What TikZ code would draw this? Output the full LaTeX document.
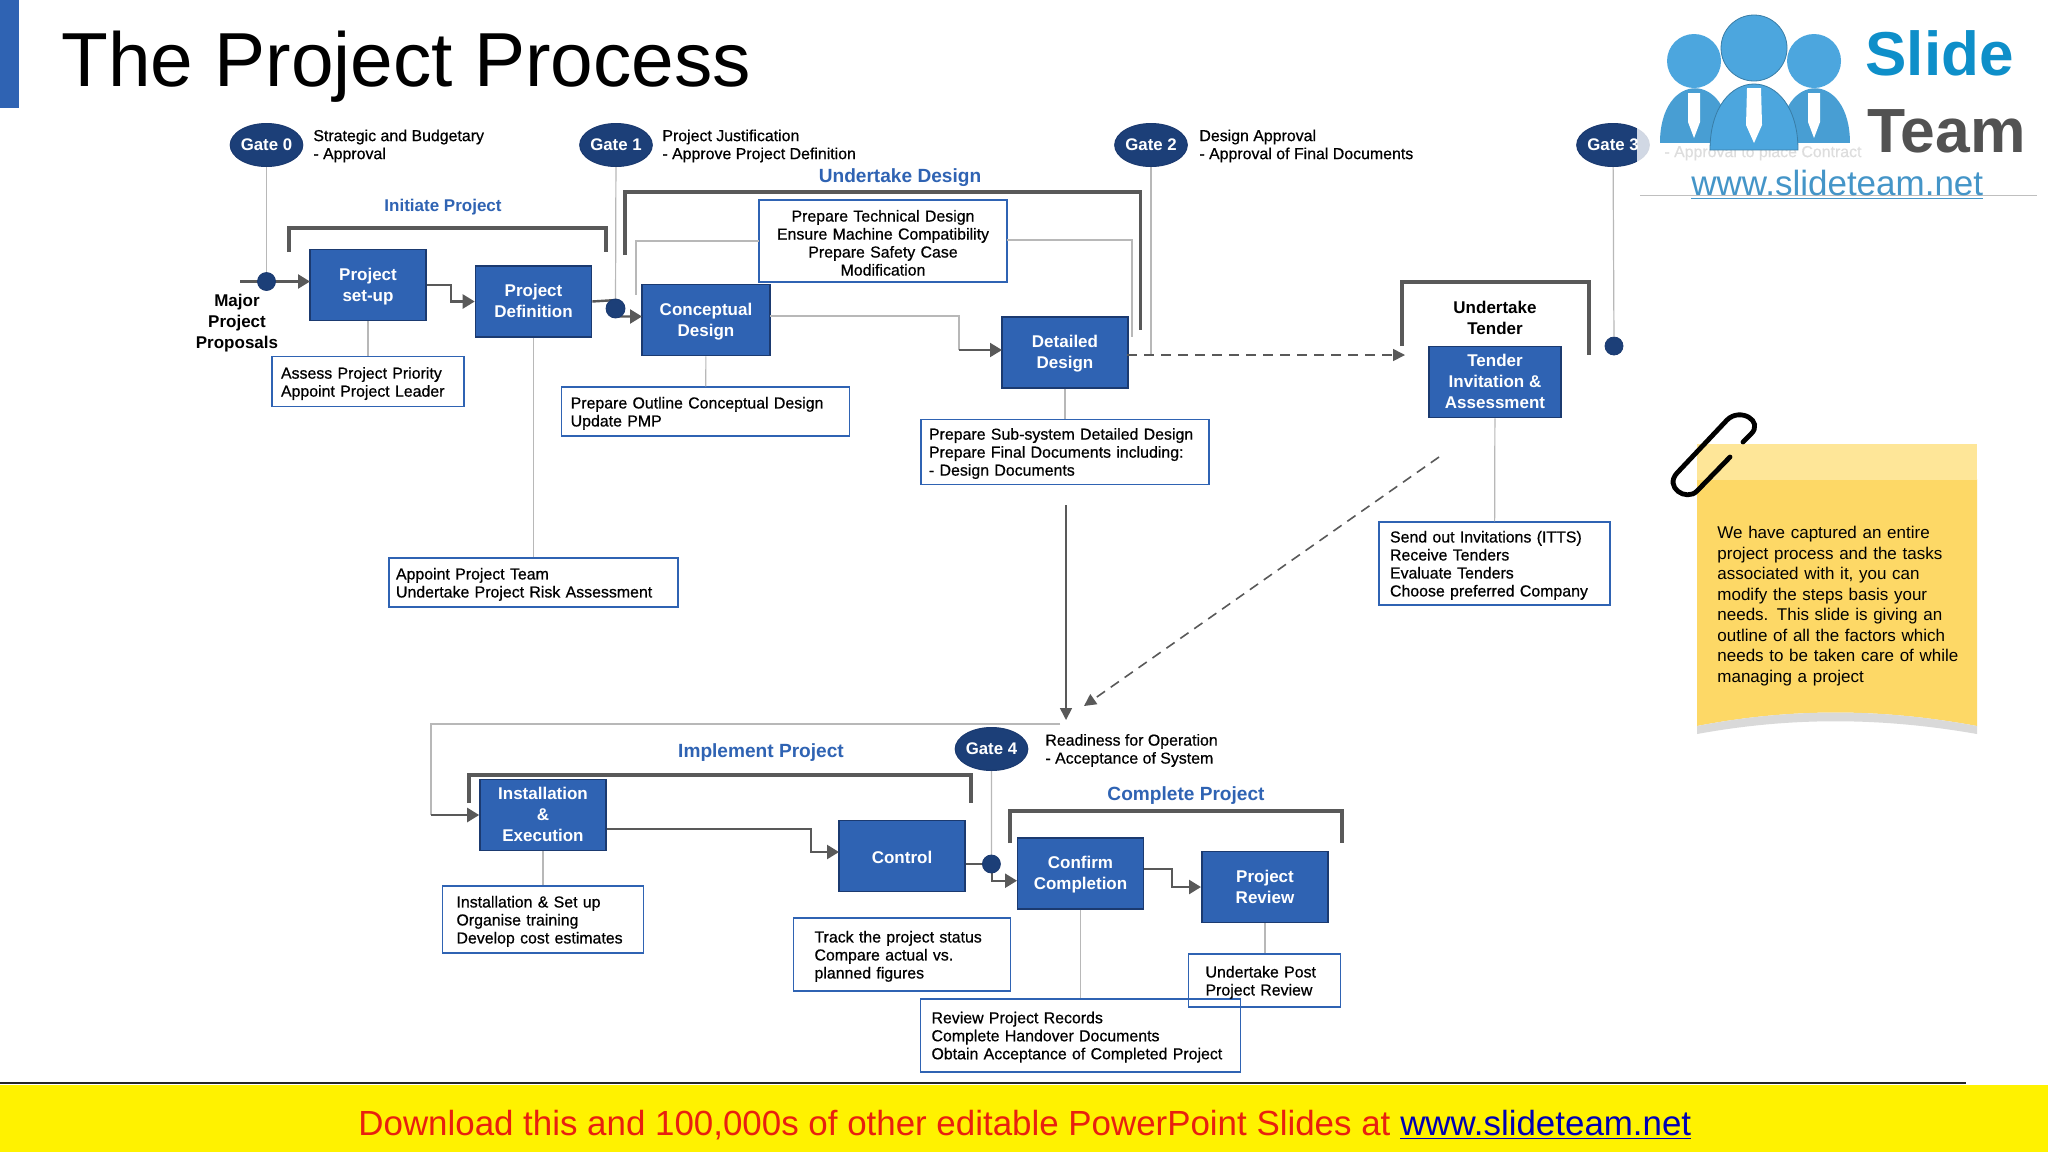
\documentclass[tikz,border=0pt]{standalone}
\usepackage{fontspec}
\setmainfont{Liberation Sans}
\newfontfamily\semifont[FakeBold=0.6]{Liberation Sans}
\usepackage{tikz}
\usetikzlibrary{arrows.meta,shapes.geometric}
\definecolor{boxblue}{HTML}{2F63B3}
\definecolor{boxedge}{HTML}{1B3A70}
\definecolor{gatenavy}{HTML}{1C3F78}
\definecolor{flowgray}{HTML}{595959}
\definecolor{thingray}{HTML}{B8B8B8}
\definecolor{logoblue}{HTML}{4CA6DE}
\definecolor{slideblue}{HTML}{0E8FC9}
\definecolor{notegold}{HTML}{FDD866}
\definecolor{notepale}{HTML}{FEE698}
\definecolor{bannerred}{HTML}{E8200F}

\begin{document}
\begin{tikzpicture}[x=0.5pt,y=-0.5pt]
\tikzset{stage/.style={draw=boxedge, line width=.8pt, fill=boxblue, text=white, align=center, minimum width=63pt, minimum height=35.5pt, inner sep=0pt, text height=17pt, text depth=1pt, font=\bfseries\fontsize{8.5}{10.3}\selectfont}}
\tikzset{note/.style={draw=boxblue, line width=.7pt, align=left, inner ysep=0pt, font=\semifont\fontsize{7.95}{9}\selectfont, execute at begin node=\rule{0pt}{7.6pt}}}
\tikzset{gate/.style={ellipse, draw=boxedge, line width=.5pt, fill=gatenavy, text=white, minimum width=36pt, minimum height=21.5pt, inner sep=0pt, font=\bfseries\fontsize{8.4}{10}\selectfont}}
\tikzset{gatetext/.style={anchor=west, align=left, inner sep=0pt, font=\semifont\fontsize{7.95}{9}\selectfont}}
\tikzset{dot/.style={circle, fill=gatenavy, draw=boxedge, line width=.4pt, minimum size=9pt, inner sep=0pt}}
\tikzset{phase/.style={text=boxblue, inner sep=0pt, font=\bfseries\fontsize{9.55}{11}\selectfont}}
\tikzset{head/.style={align=center, inner sep=0pt, font=\bfseries\fontsize{8.5}{10.3}\selectfont}}
\tikzset{flow/.style={draw=flowgray, line width=1.2pt, -{Triangle[length=6pt,width=7pt]}}}
\tikzset{thin link/.style={draw=thingray, line width=.6pt}}
\tikzset{bracket/.style={draw=flowgray, line width=1.7pt}}
\tikzset{dashes/.style={draw=flowgray, line width=.8pt, dash pattern=on 5pt off 3.5pt, -{Triangle[length=6pt,width=6pt]}}}

\useasboundingbox (0,0) rectangle (2048,1152);
\fill[white] (0,0) rectangle (2048,1152);

% title
\fill[boxblue] (0,0) rectangle (19,108);
\node[anchor=base west, inner sep=0pt, font=\fontsize{38.3}{40}\selectfont] (title) at (61,86) {The Project Process};

% gates
\node[gate] (G0) at (266.5,145) {Gate 0};
\node[gate] (G1) at (616,145) {Gate 1};
\node[gate] (G2) at (1151,145) {Gate 2};
\node[gate] (G3) at (1613,145) {Gate 3};
\node[gate] (G4) at (991.5,749) {Gate 4};
\node[gatetext] (T0) at (313,146) {Strategic and Budgetary\\- Approval};
\node[gatetext] (T1) at (662,146) {Project Justification\\- Approve Project Definition};
\node[gatetext] (T2) at (1199,146) {Design Approval\\- Approval of Final Documents};
\node[gatetext, text=flowgray] (T3) at (1664,153) {- Approval to place Contract};
\node[gatetext] (T4) at (1045,750.5) {Readiness for Operation\\- Acceptance of System};

% phase headings
\node[phase, font=\bfseries\fontsize{8.5}{11}\selectfont] (P1) at (443,207) {Initiate Project};
\node[phase] (P2) at (900,177.5) {Undertake Design};
\node[phase] (P3) at (761,753) {Implement Project};
\node[phase] (P4) at (1186,796) {Complete Project};

% stages
\node[stage, minimum width=58pt] (SU) at (368,285) {Project\\set-up};
\node[stage, minimum width=58pt] (PD) at (533.5,301.5) {Project\\Definition};
\node[stage, minimum width=64pt] (CD) at (706,320) {Conceptual\\Design};
\node[stage] (DD) at (1065,352.5) {Detailed\\Design};
\node[stage, minimum width=66pt, text height=27pt] (TI) at (1495,382) {Tender\\Invitation \&\\Assessment};
\node[stage, text height=27pt] (IE) at (543,815) {Installation\\\&\\Execution};
\node[stage, text height=8pt] (CT) at (902,856) {Control};
\node[stage] (CC) at (1080.5,873.5) {Confirm\\Completion};
\node[stage] (PR) at (1265,887) {Project\\Review};

\node[head] (MP) at (237,323) {Major\\Project\\Proposals};
\node[head] (UT) at (1495,318) {Undertake\\Tender};

% notes
\node[note, inner xsep=4.5pt, text width=87pt, minimum height=25pt] (N1) at (368,381.7) {Assess Project Priority\\Appoint Project Leader};
\node[note, align=center, inner xsep=2pt, text width=120pt, minimum height=41pt] (N2) at (883,241) {Prepare Technical Design\\Ensure Machine Compatibility\\Prepare Safety Case\\Modification};
\node[note, inner xsep=4.5pt, text width=135pt, minimum height=24.5pt] (N3) at (705.7,411.5) {Prepare Outline Conceptual Design\\Update PMP};
\node[note, inner xsep=4pt, text width=136pt, minimum height=32.5pt] (N4) at (1065,451.7) {Prepare Sub-system Detailed Design\\Prepare Final Documents including:\\- Design Documents};
\node[note, inner xsep=3.5pt, text width=137.5pt, minimum height=24.5pt] (N5) at (533.5,582.5) {Appoint Project Team\\Undertake Project Risk Assessment};
\node[note, inner xsep=5.5pt, text width=104.5pt, minimum height=41.5pt] (N6) at (1494.5,563.5) {Send out Invitations (ITTS)\\Receive Tenders\\Evaluate Tenders\\Choose preferred Company};
\node[note, inner xsep=7pt, text width=86.5pt, minimum height=33.5pt] (N7) at (543,919.5) {Installation \& Set up\\Organise training\\Develop cost estimates};
\node[note, inner xsep=10.5pt, text width=87.5pt, minimum height=36.5pt] (N8) at (902,954.5) {Track the project status\\Compare actual vs.\\planned figures};
\node[note, inner xsep=5.5pt, text width=149pt, minimum height=36.5pt] (N9) at (1080.5,1035.3) {Review Project Records\\Complete Handover Documents\\Obtain Acceptance of Completed Project};
\node[note, inner xsep=8.5pt, text width=59pt, minimum height=26.5pt] (N10) at (1264.5,980.5) {Undertake Post\\Project Review};

% free ends of the connectors
\coordinate (M0) at (240,281.5);
\coordinate (SUi) at (310,281.5);
\coordinate (CDi) at (642,316.5);
\coordinate (CDo) at (770,316);
\coordinate (DDe) at (959,316);
\coordinate (DDi) at (1002,350);
\coordinate (DDo) at (1127,355);
\coordinate (TIi) at (1405,355);
\coordinate (TIo) at (1439,457);
\coordinate (JN) at (1084,706);
\coordinate (N4o) at (1066,505);
\coordinate (JD) at (1066,720);
\coordinate (JL) at (1060,724);
\coordinate (IEb) at (431,815);
\coordinate (IEo) at (607,829);
\coordinate (CTi) at (839,852);
\coordinate (CTo) at (965.6,863.7);
\coordinate (CCi) at (1017,880.7);
\coordinate (CCo) at (1144,869);
\coordinate (PRi) at (1201,887);
\coordinate (N2l) at (759,241);
\coordinate (N2r) at (1007,240);
\coordinate (CDt) at (636,295);
\coordinate (DDt) at (1132,337);
\coordinate (G2e) at (1151,355);

% thin links
\node[dot] (D3) at (1614,346) {};
\draw[thin link] (SU) -- (N1);
\draw[thin link] (PD) -- (N5);
\draw[thin link] (CD) -- (N3);
\draw[thin link] (DD) -- (N4);
\draw[thin link] (TI) -- (N6);
\draw[thin link] (IE) -- (N7);
\draw[thin link] (PR) -- (PR |- N10.north);
\draw[thin link] (CC) -- (N9);
\draw[thin link] (N2l) -| (CDt);
\draw[thin link] (N2r) -| (DDt);
\draw[thin link] (G2) -- (G2e);
\draw[thin link] (G3) -- (D3);

% main flow
\coordinate (D0) at (266.5,281.5);
\coordinate (D1) at (615.5,308.5);
\coordinate (D4) at (991.4,864);
\draw[thin link] (G0) -- (D0);
\draw[thin link] (G1) -- (D1);
\draw[thin link] (G4) -- (D4);
\draw[flow] (M0) -- (SUi);
\draw[flow] (SU.east) -- ++(24,0) |- (PD.west);
\draw[flow] (PD.east) -- (616,300) |- (CDi);
\draw[thin link] (CDo) -| (DDe) -- (959,350);
\draw[flow, line width=1pt] (959,350) -- (DDi);
\draw[dashes] (DDo) -- (TIi);
\draw[dashes] (TIo) -- (JN);
\draw[draw=flowgray, line width=.8pt, -{Triangle[length=6pt,width=6pt]}] (N4o) -- (JD);
\draw[thin link] (JL) -| (IEb);
\draw[flow] (IEb) -- (IE.west);
\draw[flow] (IEo) -- ++(204,0) |- (CTi);
\draw[flow] (CTo) -- (992,863.7) |- (CCi);
\draw[flow] (CCo) -- ++(28,0) |- (PRi);
\node[dot] (DN0) at (D0) {};
\node[dot, minimum size=9.5pt] (DN1) at (D1) {};
\node[dot] (DN4) at (D4) {};

% brackets
\draw[bracket] (289,252) |- (606,228) -- (606,252);
\draw[bracket] (625,255) |- (1140.5,192) -- (1140.5,330);
\draw[bracket] (1402,346) |- (1589,282) -- (1589,355);
\draw[bracket] (469,803) |- (971,775) -- (971,803);
\draw[bracket] (1010,843) |- (1342,811) -- (1342,843);

% sticky note
\fill[notegold] (1697,479) -- (1977,479) -- (1977,726) .. controls (1880,708) and (1790,708) .. (1697,726) -- cycle;
\fill[notepale] (1697,444) rectangle (1977,480);
\fill[black!15] (1697,726) .. controls (1790,708) and (1880,708) .. (1977,726) -- (1977,734) .. controls (1880,717) and (1790,717) .. (1697,734) -- cycle;
\node[anchor=north west, align=left, inner sep=0pt, text width=136pt, font=\fontsize{8.5}{10.25}\selectfont] (S1) at (1717,526) {We have captured an entire\\project process and the tasks\\associated with it, you can\\modify the steps basis your\\needs. This slide is giving an\\outline of all the factors which\\needs to be taken care of while\\managing a project};
\draw[black, line width=2.4pt, line cap=round] (1730,457) -- (1697,491) .. controls (1686,502) and (1664,487) .. (1677,473) -- (1727,420) .. controls (1740,407) and (1764,421) .. (1751,434) -- (1743,442);

% logo
\fill[white, opacity=.8] (1637,0) rectangle (2037,195);
\draw[black!25, line width=.5pt] (1640,195) -- (2037,195);
\fill[logoblue] (1694,61) circle (27);
\fill[logoblue] (1814,61) circle (27);
\fill[logoblue!95!black] (1660,143) .. controls (1660,70) and (1730,70) .. (1730,143) -- cycle;
\fill[logoblue!95!black] (1780,143) .. controls (1780,70) and (1850,70) .. (1850,143) -- cycle;
\fill[white] (1688,93) -- (1700,93) -- (1700,122) -- (1694,138) -- (1688,122) -- cycle;
\fill[white] (1808,93) -- (1820,93) -- (1820,122) -- (1814,138) -- (1808,122) -- cycle;
\filldraw[fill=logoblue, draw=logoblue!75!black, line width=.4pt] (1754,48) circle (33);
\filldraw[fill=logoblue, draw=logoblue!75!black, line width=.4pt] (1710,150) .. controls (1710,62) and (1798,62) .. (1798,150) -- cycle;
\fill[white] (1747,88) -- (1761,88) -- (1762,125) -- (1754,143) -- (1746,125) -- cycle;
\node[anchor=base west, inner sep=0pt, text=slideblue, font=\bfseries\fontsize{31}{33}\selectfont] (L1) at (1865,75) {Slide};
\node[anchor=base west, inner sep=0pt, text=black!68, font=\bfseries\fontsize{31.2}{33}\selectfont] (L2) at (1867,152) {Team};
\node[anchor=base west, inner sep=0pt, text=logoblue!90!black, font=\fontsize{17.5}{19}\selectfont] (L3) at (1691,195) {\underline{www.slideteam.net}};

% banner
\fill[yellow] (0,1085) rectangle (2048,1152);
\draw[black!85, line width=1.4pt] (0,1083) -- (1966,1083);
\node[anchor=base west, inner sep=0pt, text=bannerred, font=\fontsize{17.45}{19}\selectfont] (B1) at (358,1135) {Download this and 100,000s of other editable PowerPoint Slides at \textcolor{blue!70!black}{\underline{www.slideteam.net}}};
\end{tikzpicture}
\end{document}
